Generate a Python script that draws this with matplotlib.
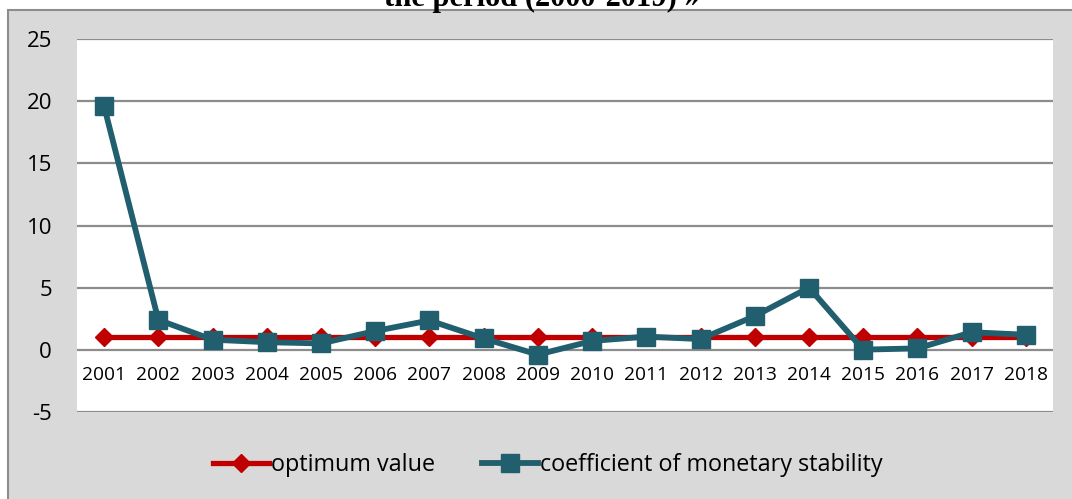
import matplotlib
matplotlib.use('Agg')
import matplotlib.pyplot as plt
from matplotlib.patches import Rectangle

years = ['2001', '2002', '2003', '2004', '2005', '2006', '2007', '2008', '2009',
         '2010', '2011', '2012', '2013', '2014', '2015', '2016', '2017', '2018']
optimum = [1] * 18
coef = [19.6, 2.4, 0.8, 0.6, 0.5, 1.5, 2.35, 0.9, -0.4,
        0.7, 1.05, 0.85, 2.7, 5.0, 0.0, 0.1, 1.4, 1.2]
yticks = [-5, 0, 5, 10, 15, 20, 25]

plt.rcParams['font.family'] = ['Open Sans', 'DejaVu Sans']

W, H = 1072, 499
fig = plt.figure(figsize=(W / 100, H / 100), dpi=100)

# grey chart box (cut off on the right and bottom)
box = Rectangle((8 / W, -0.1), 1.2, 1 - 10 / H + 0.1, transform=fig.transFigure,
                facecolor='#d9d9d9', edgecolor='#8c8c8c', linewidth=1.5, zorder=-1)
fig.patches.append(box)

fig.text(542 / W, 1 - 6 / H, 'the period (2000-2019) »', ha='center', va='baseline',
         family='Liberation Serif', fontweight='bold', fontsize=22)

ax = fig.add_axes([77 / W, 1 - 411.7 / H, (1053 - 77) / W, (411.7 - 39.3) / H])
ax.set_facecolor('white')

x = list(range(len(years)))
ax.plot(x, optimum, color='#c00000', lw=3.8, marker='D', ms=9.5,
        label='optimum value', zorder=3)
ax.plot(x, coef, color='#215e6e', lw=4.2, marker='s', ms=13.5,
        label='coefficient of monetary stability', zorder=4)

ax.set_xlim(-0.5, len(years) - 0.5)
ax.set_ylim(-5, 25)
ax.set_yticks(yticks)
ax.set_yticklabels([str(v) for v in yticks])
ax.set_xticks(x)
ax.set_xticklabels(years)

for s in ax.spines.values():
    s.set_visible(False)
ax.spines['bottom'].set_position(('data', 0))

ax.yaxis.grid(True, color='#8c8c8c', lw=1.6)
ax.set_axisbelow(True)
ax.tick_params(axis='y', length=0, pad=18, labelsize=16)
ax.tick_params(axis='x', length=0, pad=12, labelsize=13.8)

leg = fig.legend(loc='center', bbox_to_anchor=(548 / W, 1 - 465 / H), ncol=2,
                 frameon=False, fontsize=16.8, handlelength=2.4, handletextpad=0.1,
                 columnspacing=2.0, numpoints=1)

fig.savefig('out.png', dpi=100)
